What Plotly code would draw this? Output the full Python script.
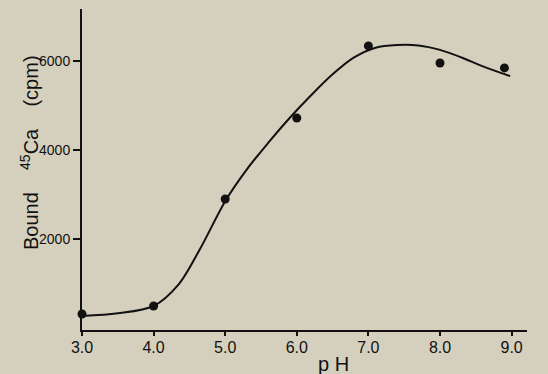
import plotly.graph_objects as go

# Measured points: bound 45Ca (cpm) versus pH
ph = [3.0, 4.0, 5.0, 6.0, 7.0, 8.0, 8.9]
bound = [315, 494, 2900, 4720, 6340, 5955, 5845]

# Smooth fitted curve drawn through the data
curve_ph = [3.0, 3.5, 4.0, 4.35, 4.65, 5.0, 5.3, 5.6, 5.9, 6.2, 6.5,
            6.8, 7.1, 7.4, 7.7, 8.0, 8.3, 8.6, 8.98]
curve_bound = [270, 330, 494, 980, 1780, 2850, 3560, 4160, 4720, 5230, 5700,
               6080, 6300, 6360, 6350, 6250, 6080, 5880, 5660]

x_ticks = [3, 4, 5, 6, 7, 8, 9]
x_tick_text = ["3.0", "4.0", "5.0", "6.0", "7.0", "8.0", "9.0"]
y_ticks = [2000, 4000, 6000]
y_tick_text = ["2000", "4000", "6000"]

bg = "#d5d0be"
ink = "#111111"
font = "Liberation Sans"
gap = "&nbsp;" * 4

fig = go.Figure()
fig.add_trace(go.Scatter(
    x=curve_ph, y=curve_bound, mode="lines",
    line=dict(color=ink, width=2, shape="spline", smoothing=0.9),
    hoverinfo="skip", showlegend=False, cliponaxis=False,
))
fig.add_trace(go.Scatter(
    x=ph, y=bound, mode="markers",
    marker=dict(color=ink, size=9),
    showlegend=False, cliponaxis=False,
))

fig.update_layout(
    width=548, height=374,
    margin=dict(l=82, r=21, t=9, b=44),
    paper_bgcolor=bg, plot_bgcolor=bg,
    font=dict(family=font, color=ink),
    xaxis=dict(
        range=[3.0, 9.215], showgrid=False, zeroline=False,
        showline=True, linecolor=ink, linewidth=2,
        tickmode="array", tickvals=x_ticks, ticktext=x_tick_text,
        ticks="outside", ticklen=4, tickwidth=1.5, tickcolor=ink,
        ticklabelstandoff=-2,
        tickfont=dict(size=16, family=font, color=ink),
    ),
    yaxis=dict(
        range=[-45, 7169], showgrid=False, zeroline=False,
        showline=True, linecolor=ink, linewidth=2,
        tickmode="array", tickvals=y_ticks, ticktext=y_tick_text,
        ticks="outside", ticklen=7, tickwidth=1.5, tickcolor=ink,
        tickfont=dict(size=14, family=font, color=ink),
    ),
    annotations=[
        dict(text="p H", xref="paper", yref="paper", x=(333 - 82) / 445,
             xanchor="center", y=0, yanchor="middle", yshift=-34,
             showarrow=False, font=dict(size=20, family=font, color=ink)),
        dict(text="Bound" + gap + "<sup>45</sup>Ca" + gap + "(cpm)",
             xref="paper", yref="paper",
             x=0, xanchor="center", xshift=-53,
             y=(330 - 153) / 321, yanchor="middle", textangle=-90,
             showarrow=False, font=dict(size=20, family=font, color=ink)),
    ],
)

fig.write_html("out.html")
